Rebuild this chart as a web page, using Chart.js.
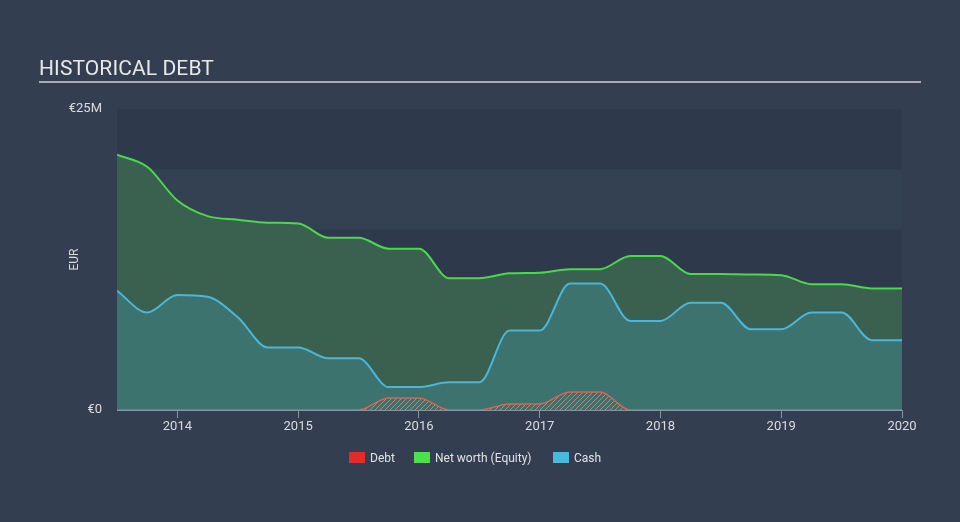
<!DOCTYPE html>
<html>
<head>
<meta charset="utf-8">
<script src="https://cdn.jsdelivr.net/npm/chart.js@4.4.1/dist/chart.umd.min.js"></script>
<style>
  html, body { margin: 0; padding: 0; background: #333f50; }
  #wrap { position: relative; width: 960px; height: 522px; overflow: hidden; font-family: Roboto, "Open Sans", sans-serif; }
  #title { position: absolute; left: 39px; top: 56px; font-size: 21px; color: #e8e8e8; letter-spacing: 0.1px; line-height: 24px; }
  #rule { position: absolute; left: 39px; top: 81px; width: 882px; height: 2px; background: #a9adb3; }
  canvas { position: absolute; left: 0; top: 0; }
  .lg { position: absolute; top: 451px; font-size: 12px; color: #e2e2e2; line-height: 14px; white-space: nowrap; }
  .lg i { display: inline-block; width: 16px; height: 11px; vertical-align: -1px; margin-right: 5px; }
</style>
</head>
<body>
<div id="wrap">
  <canvas id="c" width="960" height="522"></canvas>
  <div id="title">HISTORICAL DEBT</div>
  <div id="rule"></div>
  <div class="lg" style="left:349px"><i style="background:#e52a2a"></i>Debt</div>
  <div class="lg" style="left:414px"><i style="background:#4de04d"></i>Net worth (Equity)</div>
  <div class="lg" style="left:553px"><i style="background:#4bb9de"></i>Cash</div>
</div>
<script>
// Dates as decimal years (quarter ends)
const dates = [2013.5, 2013.75, 2014.0, 2014.25, 2014.5, 2014.75, 2015.0, 2015.25, 2015.5,
  2015.75, 2016.0, 2016.25, 2016.5, 2016.75, 2017.0, 2017.25, 2017.5, 2017.75, 2018.0,
  2018.25, 2018.5, 2018.75, 2019.0, 2019.25, 2019.5, 2019.75, 2020.0];
// Values in EUR millions
const equity = [21.2, 20.2, 17.4, 16.1, 15.8, 15.55, 15.5, 14.3, 14.3,
  13.4, 13.4, 10.95, 10.95, 11.35, 11.4, 11.7, 11.7, 12.8, 12.8,
  11.3, 11.3, 11.25, 11.2, 10.45, 10.45, 10.1, 10.1];
const cash = [9.9, 8.1, 9.55, 9.4, 7.7, 5.2, 5.2, 4.3, 4.3,
  1.9, 1.9, 2.3, 2.3, 6.6, 6.6, 10.5, 10.5, 7.4, 7.4,
  8.9, 8.9, 6.7, 6.7, 8.1, 8.1, 5.8, 5.8];
const debt = [0, 0, 0, 0, 0, 0, 0, 0, 0,
  1.0, 1.0, 0, 0, 0.5, 0.5, 1.5, 1.5, 0, 0,
  0, 0, 0, 0, 0, 0, 0, 0];
const yTicks = [0, 25];
const xTicks = [2014, 2015, 2016, 2017, 2018, 2019, 2020];

function pts(vals) { return dates.map((d, i) => ({ x: d, y: vals[i] })); }

// hatch pattern for debt fill
const pc = document.createElement('canvas');
pc.width = 5; pc.height = 5;
const pctx = pc.getContext('2d');
pctx.fillStyle = 'rgba(80,100,100,0.35)';
pctx.fillRect(0, 0, 5, 5);
pctx.strokeStyle = 'rgba(185,150,135,0.85)';
pctx.lineWidth = 1;
pctx.beginPath();
pctx.moveTo(0, 5); pctx.lineTo(5, 0);
pctx.moveTo(-1, 1); pctx.lineTo(1, -1);
pctx.moveTo(4, 6); pctx.lineTo(6, 4);
pctx.stroke();
const hatch = document.getElementById('c').getContext('2d').createPattern(pc, 'repeat');

const bands = {
  id: 'bands',
  beforeDraw(chart) {
    const { ctx, chartArea: a, scales: { y } } = chart;
    ctx.save();
    for (let i = 0; i < 5; i++) {
      const y0 = y.getPixelForValue(i * 5), y1 = y.getPixelForValue((i + 1) * 5);
      ctx.fillStyle = (i % 2 === 0) ? '#2e3a4b' : '#334153';
      ctx.fillRect(a.left, y1, a.right - a.left, y0 - y1);
    }
    ctx.restore();
  }
};

new Chart(document.getElementById('c'), {
  type: 'line',
  data: {
    datasets: [
      { label: 'Debt', data: pts(debt), borderColor: '#d8654e', borderWidth: 1.5,
        backgroundColor: hatch, fill: 'origin', order: 0 },
      { label: 'Net worth (Equity)', data: pts(equity), borderColor: '#4cd84c', borderWidth: 2,
        backgroundColor: '#3a6050', fill: 'origin', order: 2 },
      { label: 'Cash', data: pts(cash), borderColor: '#4db5d8', borderWidth: 2,
        backgroundColor: '#3c736e', fill: 'origin', order: 1 }
    ]
  },
  options: {
    responsive: false,
    animation: false,
    elements: { point: { radius: 0 }, line: { cubicInterpolationMode: 'monotone' } },
    layout: { padding: { left: 0, top: 109, right: 58, bottom: 0 } },
    plugins: { legend: { display: false }, tooltip: { enabled: false }, title: { display: false } },
    scales: {
      x: {
        type: 'linear', min: 2013.5, max: 2020,
        afterFit(s) { s.height = 112; },
        afterBuildTicks(s) { s.ticks = xTicks.map(v => ({ value: v })); },
        grid: { display: true, drawOnChartArea: false, drawTicks: true, tickLength: 8, color: '#8893a3' },
        border: { display: true, color: '#8893a3', width: 1 },
        ticks: { color: '#dcdcdc', font: { family: 'Roboto', size: 13 }, padding: 1, maxRotation: 0,
          callback: v => String(v) }
      },
      y: {
        min: 0, max: 25,
        afterFit(s) { s.width = 117; },
        afterBuildTicks(s) { s.ticks = yTicks.map(v => ({ value: v })); },
        grid: { display: false, drawTicks: false },
        border: { display: false },
        ticks: { color: '#dcdcdc', font: { family: 'Roboto', size: 13 }, padding: 15,
          callback: v => v === 0 ? '€0' : '€' + v + 'M' },
        title: { display: true, text: 'EUR', color: '#dcdcdc', font: { family: 'Roboto', size: 12 },
          padding: { top: 68, bottom: 0 } }
      }
    }
  },
  plugins: [bands]
});
</script>
</body>
</html>
